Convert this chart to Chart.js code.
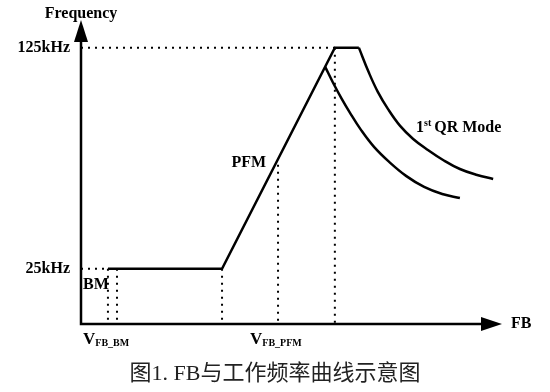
<!DOCTYPE html>
<html>
<head>
<meta charset="utf-8">
<script src="https://cdn.jsdelivr.net/npm/chart.js@4.4.1/dist/chart.umd.min.js"></script>
<style>
  html, body { margin: 0; padding: 0; background: #fff; }
  #wrap { width: 550px; height: 392px; }
</style>
</head>
<body>
<div id="wrap"><canvas id="c"></canvas></div>
<script>
// FB in arbitrary units (0..100), frequency in kHz
const freqTicks = [25, 125]
const freqTickLabels = ['25kHz', '125kHz']

// operating line: BM plateau -> PFM ramp -> 125kHz cap
const mainFb = [6.4, 33.5, 60.3, 66.0]
const mainFreq = [25, 25, 125, 125]

// 1st QR mode curves (upper one leaves the cap, lower one leaves the ramp)
const qrUpperFb = [66.0, 68.4, 70.5, 72.9, 75.8, 78.9, 82.4, 86.0, 90.0, 94.1, 97.9]
const qrUpperFreq = [125, 113.6, 105.0, 97.3, 89.6, 83.7, 78.7, 74.2, 70.1, 67.4, 65.6]
const qrLowerFb = [58.0, 59.9, 61.8, 63.9, 66.5, 69.6, 73.2, 77.2, 81.5, 85.8, 90.0]
const qrLowerFreq = [116.3, 109.0, 102.3, 95.5, 87.8, 80.1, 73.3, 67.0, 62.0, 58.8, 57.0]

// dotted guide marks on the FB axis
const bmMarks = [6.4, 8.55]
const kneeFb = 33.5
const pfmFb = 46.8
const pfmFreq = 72
const peakFb = 60.3

const serif = '"Liberation Serif", "Times New Roman", serif'

function pts(xs, ys) {
  return xs.map((x, i) => ({ x: x, y: ys[i] }))
}

function solid(data, tension) {
  return { data: data, borderColor: '#000', borderWidth: 2.5, tension: tension || 0,
    pointRadius: 0, clip: false, borderJoinStyle: 'miter' }
}
function dotted(data) {
  return { data: data, borderColor: '#000', borderWidth: 2, borderDash: [2, 5],
    pointRadius: 0, clip: false }
}

let datasets = [
  dotted([{ x: 0, y: freqTicks[1] }, { x: peakFb, y: freqTicks[1] }]),
  dotted([{ x: 0, y: freqTicks[0] }, { x: bmMarks[0], y: freqTicks[0] }]),
  dotted([{ x: kneeFb, y: freqTicks[0] }, { x: kneeFb, y: 0 }]),
  dotted([{ x: pfmFb, y: pfmFreq }, { x: pfmFb, y: 0 }]),
  dotted([{ x: peakFb, y: freqTicks[1] }, { x: peakFb, y: 0 }]),
  solid(pts(mainFb, mainFreq)),
  solid(pts(qrUpperFb, qrUpperFreq), 0.4),
  solid(pts(qrLowerFb, qrLowerFreq), 0.4)
]
bmMarks.forEach(m => {
  datasets.push(dotted([{ x: m, y: freqTicks[0] }, { x: m, y: 0 }]))
})

function subLabel(ctx, left, base, big, small) {
  ctx.textAlign = 'left'
  ctx.textBaseline = 'alphabetic'
  ctx.font = 'bold 17px ' + serif
  ctx.fillText(big, left, base)
  let w = ctx.measureText(big).width
  ctx.font = 'bold 10px ' + serif
  ctx.fillText(small, left + w, base + 2)
}

const axesAndNotes = {
  id: 'axesAndNotes',
  afterDatasetsDraw(chart) {
    const { ctx } = chart
    const x = chart.scales.x, y = chart.scales.y
    const x0 = x.getPixelForValue(0), x1 = x.getPixelForValue(x.max)
    const y0 = y.getPixelForValue(0), y1 = y.getPixelForValue(y.max)
    ctx.save()
    ctx.strokeStyle = '#000'
    ctx.fillStyle = '#000'
    ctx.lineWidth = 2.5
    ctx.lineJoin = 'miter'
    ctx.beginPath()
    ctx.moveTo(x0, y1 + 18)
    ctx.lineTo(x0, y0)
    ctx.lineTo(x1 - 18, y0)
    ctx.stroke()
    // arrow heads
    ctx.beginPath()
    ctx.moveTo(x1, y0); ctx.lineTo(x1 - 21, y0 - 7); ctx.lineTo(x1 - 21, y0 + 7)
    ctx.closePath(); ctx.fill()
    ctx.beginPath()
    ctx.moveTo(x0, y1); ctx.lineTo(x0 - 7, y1 + 22); ctx.lineTo(x0 + 7, y1 + 22)
    ctx.closePath(); ctx.fill()

    ctx.font = 'bold 16px ' + serif
    ctx.textBaseline = 'middle'
    ctx.textAlign = 'center'
    ctx.fillText('Frequency', x0, 14)
    ctx.textAlign = 'left'
    ctx.fillText('FB', x1 + 9, y0)
    ctx.fillText('BM', x0 + 2, y.getPixelForValue(freqTicks[0]) + 16)
    ctx.textAlign = 'right'
    ctx.fillText('PFM', x.getPixelForValue(pfmFb) - 12, 163)

    // 1st QR Mode with superscript
    ctx.textAlign = 'left'
    ctx.textBaseline = 'alphabetic'
    let qx = 416, qy = 132
    ctx.fillText('1', qx, qy)
    qx += ctx.measureText('1').width
    ctx.font = 'bold 10px ' + serif
    ctx.fillText('st', qx, qy - 6)
    qx += ctx.measureText('st').width + 3
    ctx.font = 'bold 16px ' + serif
    ctx.fillText('QR Mode', qx, qy)

    subLabel(ctx, x0 + 2, y0 + 20, 'V', 'FB_BM')
    subLabel(ctx, x.getPixelForValue(pfmFb) - 28, y0 + 20, 'V', 'FB_PFM')

    ctx.fillStyle = '#222'
    ctx.font = '22px ' + serif + ', "Noto Sans CJK SC"'
    ctx.textAlign = 'center'
    ctx.textBaseline = 'middle'
    ctx.fillText('图1. FB与工作频率曲线示意图', 275, 374)
    ctx.restore()
  }
}

new Chart(document.getElementById('c'), {
  type: 'line',
  data: { datasets: datasets },
  options: {
    responsive: true,
    maintainAspectRatio: false,
    animation: false,
    layout: { padding: { top: 20, bottom: 68, right: 48, left: 0 } },
    plugins: { legend: { display: false }, tooltip: { enabled: false } },
    scales: {
      x: { type: 'linear', min: 0, max: 100, display: false },
      y: {
        type: 'linear', min: 0, max: 137.5,
        grid: { display: false }, border: { display: false },
        afterBuildTicks: s => { s.ticks = freqTicks.map(v => ({ value: v })) },
        afterFit: s => { s.width = 81 },
        ticks: {
          autoSkip: false, padding: 3, color: '#000',
          font: { family: serif, size: 16, weight: 'bold' },
          callback: v => freqTickLabels[freqTicks.indexOf(v)]
        }
      }
    }
  },
  plugins: [axesAndNotes]
})
</script>
</body>
</html>
